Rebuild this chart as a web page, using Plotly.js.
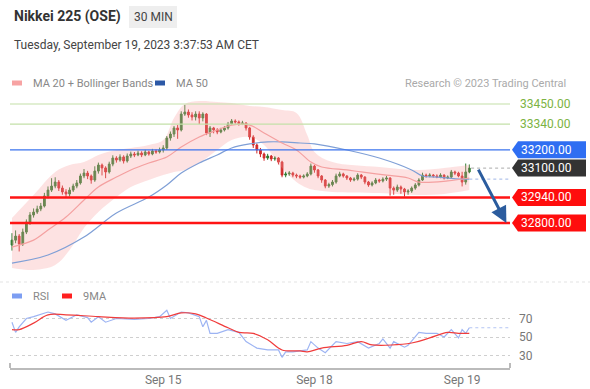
<!DOCTYPE html>
<html>
<head>
<meta charset="utf-8">
<script src="https://cdn.plot.ly/plotly-3.0.1.min.js"></script>
<style>
html,body{margin:0;padding:0;background:#fff;}
#chart{width:590px;height:389px;}
</style>
</head>
<body>
<div id="chart"></div>
<script>
// ---------- DATA ----------
const opens = [32680,32707,32729,32686,32751,32806,32844,32860,32877,32893,32948,32980,33002,33024,32991,32970,32959,32980,33002,33019,33057,33073,33057,33035,33084,33117,33101,33079,33122,33155,33144,33161,33139,33166,33177,33172,33182,33172,33188,33177,33193,33188,33199,33210,33264,33286,33319,33308,33395,33406,33390,33379,33395,33374,33395,33292,33319,33308,33297,33308,33319,33341,33357,33352,33341,33346,33319,33270,33226,33199,33177,33155,33166,33150,33155,33133,33062,33068,33073,33062,33057,33051,33057,33068,33111,33090,33057,33035,33002,33010,33024,33057,33068,33057,33046,33035,33040,33062,33051,33024,33008,33019,33035,33030,33040,33046,32991,32980,32997,32986,32970,32975,32991,33008,33035,33062,33057,33062,33057,33052,33062,33046,33051,33079,33073,33057,33024,33079];
const highs = [32745,32760,32740,32770,32820,32860,32880,32895,32910,32965,33000,33045,33050,33035,33005,32985,32995,33015,33035,33070,33095,33085,33065,33110,33130,33125,33110,33135,33170,33165,33175,33170,33180,33190,33188,33195,33192,33200,33195,33205,33202,33212,33225,33275,33300,33330,33335,33410,33445,33420,33405,33410,33410,33405,33400,33330,33325,33318,33320,33330,33352,33368,33366,33360,33358,33350,33325,33280,33235,33210,33185,33178,33172,33165,33160,33140,33080,33084,33080,33070,33064,33066,33078,33125,33118,33095,33062,33040,33020,33035,33070,33080,33075,33062,33052,33050,33072,33068,33056,33030,33028,33046,33042,33050,33058,33050,33000,33010,33005,32992,32985,33000,33018,33045,33075,33070,33072,33068,33066,33072,33066,33060,33090,33086,33080,33080,33125,33120];
const lows = [32650,32690,32645,32675,32740,32790,32830,32850,32865,32885,32935,32970,32990,32975,32955,32940,32945,32970,32990,33010,33045,33040,33015,33025,33070,33060,33045,33070,33110,33130,33135,33125,33130,33155,33160,33165,33160,33165,33168,33170,33178,33180,33185,33200,33250,33270,33260,33300,33385,33375,33360,33360,33340,33355,33280,33270,33290,33285,33290,33300,33310,33335,33342,33332,33335,33305,33255,33210,33180,33160,33140,33145,33138,33140,33120,33050,33050,33058,33050,33045,33042,33044,33050,33060,33075,33045,33020,32990,32992,33000,33015,33050,33048,33035,33025,33028,33032,33040,33012,32998,33000,33012,33020,33022,33030,32950,32955,32970,32960,32945,32955,32965,32982,33000,33030,33048,33050,33048,33045,33045,33038,33040,33046,33062,33050,33000,33010,33072];
const closes = [32707,32729,32686,32751,32806,32844,32860,32877,32893,32948,32980,33002,33024,32991,32970,32959,32980,33002,33019,33057,33073,33057,33035,33084,33117,33101,33079,33122,33155,33144,33161,33139,33166,33177,33172,33182,33172,33188,33177,33193,33188,33199,33210,33264,33286,33319,33308,33395,33406,33390,33379,33395,33374,33395,33292,33319,33308,33297,33308,33319,33341,33357,33352,33341,33346,33319,33270,33226,33199,33177,33155,33166,33150,33155,33133,33062,33068,33073,33062,33057,33051,33057,33068,33111,33090,33057,33035,33002,33010,33024,33057,33068,33057,33046,33035,33040,33062,33051,33024,33008,33019,33035,33030,33040,33046,32991,32980,32997,32986,32970,32975,32991,33008,33035,33062,33057,33062,33057,33052,33062,33046,33051,33079,33073,33057,33024,33079,33100];

const ma20X = [0,6,10,15,20,24,29,33,38,43,47,52,57,61,66,70,75,79,83,86,93,97,104,110,113,121,127];
const ma20V = [32669,32707,32762,32833,32926,32997,33051,33090,33128,33161,33215,33270,33308,33335,33335,33292,33237,33199,33133,33106,33090,33079,33062,33046,33024,33030,33046];

const bandX = [0,6,12,16,20,24,29,33,38,42,45,48,52,57,61,66,70,75,79,82,84,89,102,113,120,127];
const bandUpper = [32828,32953,33079,33117,33133,33172,33199,33210,33226,33253,33374,33450,33466,33461,33455,33439,33434,33417,33401,33281,33188,33133,33106,33090,33101,33117];
const bandLower = [32555,32544,32571,32653,32773,32860,32942,32997,33035,33062,33079,33090,33128,33199,33253,33270,33226,33100,33024,32991,32980,32970,32964,32953,32959,32980];

const ma50X = [0,10,20,29,38,43,47,52,57,61,66,71,75,80,84,93,102,111,114,118,125,127];
const ma50V = [32582,32626,32724,32855,32942,33008,33073,33128,33172,33210,33232,33243,33243,33237,33232,33199,33155,33090,33057,33051,33040,33040];

const rsiX = [0,1,2,4,6,9,10,12,15,18,21,22,24,26,29,34,38,41,43,44,47,49,52,53,54,55,57,60,63,65,68,71,74,75,76,78,82,83,85,87,90,93,96,99,102,103,105,106,109,110,113,115,118,120,122,124,125,126,127];
const rsiV = [66,55,61,70,72,76,77,75,68,74,71,66,72,66,70,69,70,72,79,70,77,76,72,61,68,54,54,58,55,45,38,36,36,28,34,34,36,45,38,33,45,43,45,38,43,48,38,45,39,41,55,54,54,50,58,49,58,54,60];
const rsiMaX = [0,2,6,10,15,24,34,43,47,51,54,60,63,67,71,75,80,82,86,93,97,100,111,116,121,124,127];
const rsiMaV = [58,58,65,74,74,72,70.5,72,76,75,70.5,60,55,54,47,36,35,34,38,41,45,41.5,43.5,49,55,54,54];

const tickIdx = [42,84,125];
const tickText = ["Sep 15","Sep 18","Sep 19"];

const levelsGreen = [33450,33340];
const levelBlue = 33200;
const levelPrice = 33100;
const levelsRed = [32940,32800];
const arrowFrom = 33100;
const arrowTo = 32800;

// ---------- BUILD ----------
const W = 590, H = 389;
const idx = closes.map((_, i) => i);
const xRange = [-0.55, 138.3];
const plotL = 10 / W, plotR = 510 / W;
const FONT = "Roboto, 'Liberation Sans', Arial, sans-serif";

const traces = [
  {x: bandX, y: bandUpper, type: 'scatter', mode: 'lines', line: {width: 0, shape: 'spline'}, hoverinfo: 'skip', showlegend: false},
  {x: bandX, y: bandLower, type: 'scatter', mode: 'lines', line: {width: 0, shape: 'spline'}, fill: 'tonexty', fillcolor: 'rgba(250,160,160,0.30)', hoverinfo: 'skip', showlegend: false},
  {x: ma50X, y: ma50V, type: 'scatter', mode: 'lines', line: {color: '#7f9fd6', width: 1.2, shape: 'spline'}, showlegend: false},
  {x: ma20X, y: ma20V, type: 'scatter', mode: 'lines', line: {color: '#f4a0a0', width: 1.2, shape: 'spline'}, showlegend: false},
  {x: [ma50X[ma50X.length-1], xRange[1]], y: [ma50V[ma50V.length-1], ma50V[ma50V.length-1]], type: 'scatter', mode: 'lines', line: {color: '#9fb5e6', width: 1, dash: 'dot'}, showlegend: false},
  {x: idx, open: opens, high: highs, low: lows, close: closes, type: 'candlestick',
   increasing: {line: {color: '#2f7d32', width: 1}, fillcolor: '#2f7d32'},
   decreasing: {line: {color: '#d02a2a', width: 1}, fillcolor: '#d02a2a'},
   whiskerwidth: 0, showlegend: false},
  {x: rsiX, y: rsiV, xaxis: 'x2', yaxis: 'y2', type: 'scatter', mode: 'lines', line: {color: '#9db4f3', width: 1.2}, showlegend: false},
  {x: [rsiX[rsiX.length-1], xRange[1]], y: [rsiV[rsiV.length-1], rsiV[rsiV.length-1]], xaxis: 'x2', yaxis: 'y2', type: 'scatter', mode: 'lines', line: {color: '#b3c5f3', width: 1, dash: 'dot'}, showlegend: false},
  {x: rsiMaX, y: rsiMaV, xaxis: 'x2', yaxis: 'y2', type: 'scatter', mode: 'lines', line: {color: '#f03c3c', width: 1.2, shape: 'spline'}, showlegend: false}
];

const shapes = [];
const annotations = [];

// header
shapes.push({type: 'rect', xref: 'paper', yref: 'paper', x0: 129/W, x1: 177/W, y0: 1 - 28/H, y1: 1 - 6/H, fillcolor: '#eeeeee', line: {width: 0}, layer: 'below'});
annotations.push({xref: 'paper', yref: 'paper', x: 12/W, y: 1 - 17/H, xanchor: 'left', yanchor: 'middle', text: '<b>Nikkei 225 (OSE)</b>', showarrow: false, font: {family: FONT, size: 14, color: '#333'}});
annotations.push({xref: 'paper', yref: 'paper', x: 153/W, y: 1 - 17/H, xanchor: 'center', yanchor: 'middle', text: '30 MIN', showarrow: false, font: {family: FONT, size: 12, color: '#444'}});
annotations.push({xref: 'paper', yref: 'paper', x: 12/W, y: 1 - 45/H, xanchor: 'left', yanchor: 'middle', text: 'Tuesday, September 19, 2023 3:37:53 AM CET', showarrow: false, font: {family: FONT, size: 12, color: '#444'}});

// main legend
function swatch(x, y, color) {
  shapes.push({type: 'rect', xref: 'paper', yref: 'paper', x0: x/W, x1: (x+10)/W, y0: 1 - (y+2.5)/H, y1: 1 - (y-2.5)/H, fillcolor: color, line: {width: 0}});
}
function legText(x, y, t, color, anchor) {
  annotations.push({xref: 'paper', yref: 'paper', x: x/W, y: 1 - y/H, xanchor: anchor || 'left', yanchor: 'middle', text: t, showarrow: false, font: {family: FONT, size: 11, color: color || '#888'}});
}
swatch(12, 83, '#f7a3a3'); legText(31, 83, 'MA 20 + Bollinger Bands');
swatch(155, 83, '#2c58a6'); legText(174, 83, 'MA 50');
legText(568, 83, 'Research © 2023 Trading Central', '#aaa', 'right');
swatch(12, 296, '#7d9ef2'); legText(31, 296, 'RSI');
swatch(62, 296, '#ff2020'); legText(81, 296, '9MA');

// separator dotted line above RSI
shapes.push({type: 'line', xref: 'paper', yref: 'paper', x0: 0, x1: 1, y0: 1 - 282/H, y1: 1 - 282/H, line: {color: '#e3e3e3', width: 1, dash: 'dot'}});

// level lines
levelsGreen.forEach(v => {
  shapes.push({type: 'line', xref: 'x domain', yref: 'y', x0: 0, x1: 1, y0: v, y1: v, line: {color: '#c3e0a8', width: 1.2}});
  annotations.push({xref: 'paper', yref: 'y', x: 518/W, y: v, xanchor: 'left', yanchor: 'middle', text: v.toFixed(2), showarrow: false, font: {family: FONT, size: 12, color: '#7cb342'}});
});
function tagBox(v, color) {
  shapes.push({type: 'path', xref: 'paper', yref: 'y', xsizemode: 'pixel', ysizemode: 'pixel', xanchor: 512/W, yanchor: v,
    path: 'M0,0 L6,8.5 L74,8.5 L74,-8.5 L6,-8.5 Z', fillcolor: color, line: {width: 0}});
  annotations.push({xref: 'paper', yref: 'y', x: 519/W, y: v, xanchor: 'left', yanchor: 'middle', text: v.toFixed(2), showarrow: false, font: {family: FONT, size: 12, color: '#fff'}});
}
shapes.push({type: 'line', xref: 'x domain', yref: 'y', x0: 0, x1: 1, y0: levelBlue, y1: levelBlue, line: {color: '#3a73ee', width: 1.3}});
tagBox(levelBlue, '#2f6ef2');
shapes.push({type: 'line', xref: 'x', yref: 'y', x0: idx[idx.length-1] + 0.5, x1: xRange[1], y0: levelPrice, y1: levelPrice, line: {color: '#aaaaaa', width: 1, dash: 'dot'}});
tagBox(levelPrice, '#333333');
levelsRed.forEach(v => {
  shapes.push({type: 'line', xref: 'x domain', yref: 'y', x0: 0, x1: 1, y0: v, y1: v, line: {color: '#ff1414', width: 2.5}});
  tagBox(v, '#ff0d0d');
});

// forecast arrow
annotations.push({xref: 'x', yref: 'y', axref: 'x', ayref: 'y', x: 137.3, y: arrowTo, ax: 129.3, ay: arrowFrom,
  showarrow: true, arrowhead: 2, arrowsize: 1.1, arrowwidth: 3, arrowcolor: '#2b5c9e', text: ''});

// bottom axis end ticks
[0, 1].forEach(e => {
  shapes.push({type: 'line', xref: 'x2 domain', yref: 'paper', x0: e, x1: e, y0: 1 - 368/H, y1: 1 - 363/H, line: {color: '#bbb', width: 2}});
});

const layout = {
  width: W, height: H,
  margin: {l: 0, r: 0, t: 0, b: 0},
  paper_bgcolor: '#fff', plot_bgcolor: 'rgba(0,0,0,0)',
  showlegend: false,
  font: {family: FONT},
  xaxis: {domain: [plotL, plotR], range: xRange, visible: false, rangeslider: {visible: false}, fixedrange: true},
  yaxis: {domain: [1 - 270/H, 1 - 95/H], range: [32544, 33499], visible: false},
  xaxis2: {domain: [plotL, plotR], range: xRange, anchor: 'y2', showline: true, linecolor: '#bbb', linewidth: 2,
    showgrid: false, zeroline: false, tickvals: tickIdx, ticktext: tickText, ticks: '', ticklabelstandoff: 0,
    tickfont: {family: FONT, size: 12, color: '#777'}},
  yaxis2: {domain: [1 - 368/H, 1 - 300/H], range: [16.5, 90], anchor: 'x2', side: 'right',
    tickvals: [30, 50, 70], ticktext: ['30', '50', '70'], showgrid: true, gridcolor: '#cfcfcf', griddash: 'dot',
    zeroline: false, showline: false, ticks: '', ticklabelstandoff: 8, tickfont: {family: FONT, size: 12, color: '#777'}},
  shapes: shapes,
  annotations: annotations
};

Plotly.newPlot('chart', traces, layout, {staticPlot: true, displayModeBar: false});
</script>
</body>
</html>
